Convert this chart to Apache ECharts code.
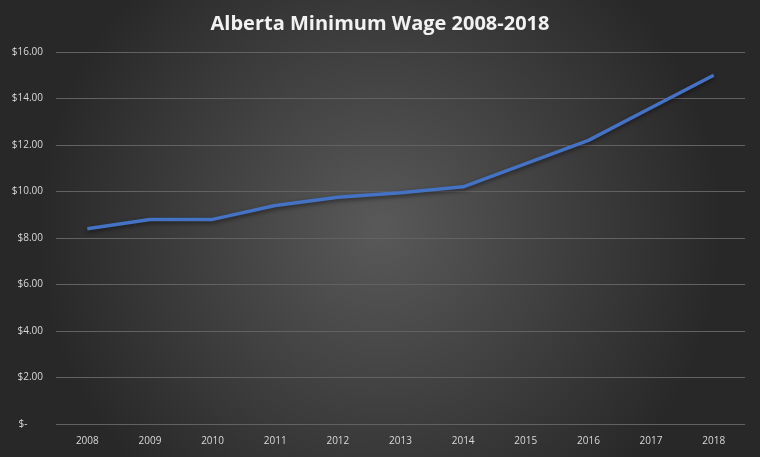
<!DOCTYPE html>
<html><head><meta charset="utf-8">
<script src="https://cdn.jsdelivr.net/npm/echarts@6/dist/echarts.min.js"></script>
<style>html,body{margin:0;padding:0;background:#333;}#c{width:760px;height:457px;}</style>
</head><body><div id="c"></div>
<script>
const years = ['2008','2009','2010','2011','2012','2013','2014','2015','2016','2017','2018'];
const wages = [8.40, 8.80, 8.80, 9.40, 9.75, 9.95, 10.20, 11.20, 12.20, 13.60, 15.00];
const chart = echarts.init(document.getElementById('c'));
chart.setOption({
  backgroundColor: {
    type: 'radial', x: 0.5, y: 0.5, r: 0.75,
    colorStops: [{offset: 0, color: '#595959'}, {offset: 1, color: '#282828'}]
  },
  title: {
    text: 'Alberta Minimum Wage 2008-2018', left: 'center', top: 9,
    textStyle: {color: '#f2f2f2', fontFamily: 'Open Sans', fontWeight: 'bold', fontSize: 20}
  },
  grid: {left: 56, right: 15, top: 52, bottom: 33},
  xAxis: {
    type: 'category', data: years, boundaryGap: true,
    axisLine: {show: false}, axisTick: {show: false},
    axisLabel: {color: '#d9d9d9', fontFamily: 'Open Sans', fontSize: 10, margin: 12}
  },
  yAxis: {
    type: 'value', min: 0, max: 16, interval: 2,
    axisLine: {show: false}, axisTick: {show: false},
    splitLine: {lineStyle: {color: '#626262', width: 1}},
    axisLabel: {color: '#d9d9d9', fontFamily: 'Open Sans', fontSize: 10, margin: 13,
      formatter: v => v === 0 ? '$-      ' : '$' + v.toFixed(2)}
  },
  series: [{
    type: 'line', data: wages, symbol: 'none', smooth: false,
    lineStyle: {color: '#4472c4', width: 3.5, shadowColor: 'rgba(0,0,0,0.5)', shadowBlur: 4, shadowOffsetY: 2},
    animation: false
  }],
  animation: false
});
</script></body></html>
